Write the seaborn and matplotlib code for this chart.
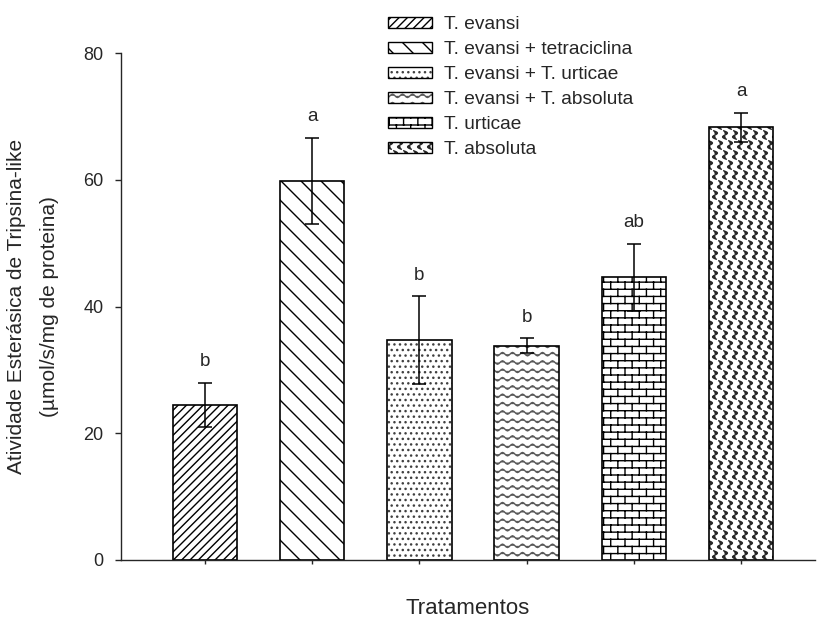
import warnings

import numpy as np
import pandas as pd
import matplotlib
matplotlib.use("Agg")
import matplotlib.pyplot as plt
from matplotlib import hatch as mhatch
from matplotlib.path import Path
from matplotlib.patches import Patch
import seaborn as sns

warnings.filterwarnings("ignore")

# ---- data -------------------------------------------------------------
tratamentos = [
    "T. evansi",
    "T. evansi + tetraciclina",
    "T. evansi + T. urticae",
    "T. evansi + T. absoluta",
    "T. urticae",
    "T. absoluta",
]
atividade = [24.5, 59.8, 34.7, 33.8, 44.6, 68.3]
erro = [3.5, 6.8, 6.9, 1.2, 5.3, 2.3]
letras = ["b", "a", "b", "b", "ab", "a"]
yticks = [0, 20, 40, 60, 80]
hachuras = ["////", "n", "...", "z", "k", "s"]
cor_hachura = ["black", "black", "0.25", "0.35", "black", "0.15"]


# ---- extra hatch textures (zigzag, bricks, scales, sparse backslash) ----
class _PolylineHatch(mhatch.HatchPatternBase):
    symbol = ""

    def __init__(self, hatch, density):
        self.lines = self.polylines() if (hatch and self.symbol in hatch) else []
        self.num_vertices = int(sum(len(p) for p in self.lines))

    def polylines(self):
        return []

    def set_vertices_and_codes(self, vertices, codes):
        i = 0
        for p in self.lines:
            n = len(p)
            vertices[i:i + n] = p
            codes[i] = Path.MOVETO
            codes[i + 1:i + n] = Path.LINETO
            i += n


class SparseBackslash(_PolylineHatch):
    symbol = "n"

    def polylines(self):
        k = 5
        out = []
        for c in np.arange(0, 2 + 1e-9, 1.0 / k):
            out.append(np.array([[0.0, c], [1.0, c - 1.0]]))
        return out


class ZigZag(_PolylineHatch):
    symbol = "z"

    def polylines(self):
        rows, periods, amp = 12, 10, 0.017
        x = np.linspace(0, 1, periods * 8 + 1)
        out = []
        for j in range(rows):
            y0 = (j + 0.5) / rows
            y = y0 + amp * np.sin(2 * np.pi * periods * x)
            out.append(np.column_stack([x, y]))
        return out


class Bricks(_PolylineHatch):
    symbol = "k"

    def polylines(self):
        rows, cols = 14, 7
        out = []
        for j in range(-1, rows + 1):
            y = (j + 0.5) / rows
            out.append(np.array([[0.0, y], [1.0, y]]))
        for j in range(-1, rows):
            ya, yb = (j + 0.5) / rows, (j + 1.5) / rows
            shift = 0.5 * (j % 2)
            for i in range(-1, cols + 1):
                x = (i + shift + 0.25) / cols
                out.append(np.array([[x, ya], [x, yb]]))
        return out


class Scales(_PolylineHatch):
    symbol = "s"

    def polylines(self):
        n = 10
        h = 1.0 / n
        t = np.linspace(0, 1, 21)
        out = []
        for j in range(-1, n + 1):
            y0 = j * h
            shift = 0.5 * h * (j % 2)
            for i in range(-1, n + 1):
                x0 = i * h + shift
                # one "S" stroke per cell
                sy = y0 + h * (0.92 - 0.84 * t)
                sx = (x0 + 0.5 * h + 0.3 * h * np.sin(2 * np.pi * t)
                      + 0.25 * h * (t - 0.5))
                out.append(np.column_stack([sx, sy]))
        return out


mhatch._hatch_types.extend([SparseBackslash, ZigZag, Bricks, Scales])

# ---- style --------------------------------------------------------------
sns.set_theme(style="ticks")
plt.rcParams["font.family"] = ["Liberation Sans", "DejaVu Sans"]
plt.rcParams["hatch.linewidth"] = 1.0
plt.rcParams["axes.linewidth"] = 1.0

df = pd.DataFrame({"Tratamento": tratamentos, "Atividade": atividade})

fig = plt.figure(figsize=(8.17, 6.2), dpi=100)
ax = fig.add_axes([121 / 817, 1 - 560 / 620, (815 - 121) / 817, (560 - 53) / 620])

sns.barplot(
    data=df, x="Tratamento", y="Atividade", order=tratamentos,
    color="white", saturation=1, edgecolor="black", linewidth=1.2,
    width=0.6, errorbar=None, ax=ax,
)
for patch, h, hc in zip(ax.patches, hachuras, cor_hachura):
    patch.set_hatch(h)
    patch.set_facecolor("white")
    patch._hatch_color = matplotlib.colors.to_rgba(hc)

pos = np.arange(len(tratamentos))
ax.errorbar(pos, atividade, yerr=erro, fmt="none", ecolor="black",
            elinewidth=1.1, capsize=5, capthick=1.1, zorder=3)

for x, m, e, txt in zip(pos, atividade, erro, letras):
    ax.annotate(txt, xy=(x, m + e), xytext=(0, 9), textcoords="offset points",
                ha="center", va="bottom", fontsize=13.5)

ax.set_xlim(-0.784, 5.69)
ax.set_ylim(0, 80)
ax.set_yticks(yticks)
ax.set_yticklabels([str(v) for v in yticks])
ax.tick_params(axis="y", direction="out", length=4.3, width=1.0, pad=8.4,
               labelsize=13)
ax.tick_params(axis="x", direction="out", length=3, width=1.0,
               labelbottom=False)
sns.despine(ax=ax)

ax.set_xlabel("Tratamentos", fontsize=16, labelpad=24)
ax.set_ylabel("Atividade Esterásica de Tripsina-like\n(µmol/s/mg de proteina)",
              fontsize=15, linespacing=1.95, labelpad=17)

handles = [Patch(facecolor="white", edgecolor="black", linewidth=1.0, hatch=h)
           for h in hachuras]
leg = fig.legend(handles, tratamentos, loc="upper left",
                 bbox_to_anchor=(388 / 817, 1 - 16 / 620), frameon=False,
                 fontsize=13.8, handlelength=2.3, handleheight=0.5,
                 handletextpad=0.62, labelspacing=0.42, borderpad=0,
                 borderaxespad=0)
for hp, hc in zip(leg.get_patches(), cor_hachura):
    hp._hatch_color = matplotlib.colors.to_rgba(hc)

fig.savefig("out.png", dpi=100)
